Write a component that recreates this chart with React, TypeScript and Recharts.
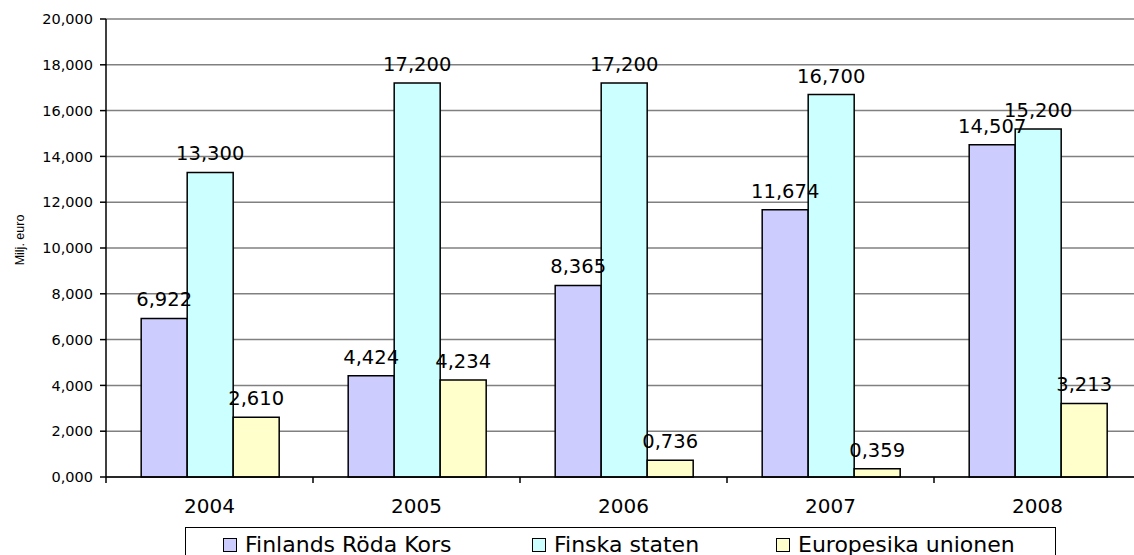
import React from "react";
import {
  BarChart,
  Bar,
  XAxis,
  YAxis,
  CartesianGrid,
  LabelList,
} from "recharts";

// Values in miljoner euro (Finnish decimal comma in the labels)
const years = ["2004", "2005", "2006", "2007", "2008"];
const rodaKors = [6.922, 4.424, 8.365, 11.674, 14.507];
const finskaStaten = [13.3, 17.2, 17.2, 16.7, 15.2];
const europeiskaUnionen = [2.61, 4.234, 0.736, 0.359, 3.213];
const yTicks = [0, 2, 4, 6, 8, 10, 12, 14, 16, 18, 20];

const seriesNames = ["Finlands Röda Kors", "Finska staten", "Europesika unionen"];
const seriesColors = ["#CCCCFF", "#CCFFFF", "#FFFFCC"];

const data = years.map((year, i) => ({
  year,
  frk: rodaKors[i],
  staten: finskaStaten[i],
  eu: europeiskaUnionen[i],
}));

const fmt = (v: number) => Number(v).toFixed(3).replace(".", ",");

const FONT = "'DejaVu Sans', Verdana, sans-serif";

// category label plus a tick mark on the left edge of the band (and right edge for the last one)
const YearTick = (props: any) => {
  const { x, y, payload, index } = props;
  const half = payload?.offset ?? 0;
  const axisY = y - 22;
  return (
    <g>
      <line x1={x - half} x2={x - half} y1={axisY} y2={axisY + 6} stroke="#000" strokeWidth={1.5} />
      {index === years.length - 1 && (
        <line x1={x + half} x2={x + half} y1={axisY} y2={axisY + 6} stroke="#000" strokeWidth={1.5} />
      )}
      <text x={x} y={y} dy="0.71em" textAnchor="middle" fontSize={20} fontFamily={FONT} fill="#000">
        {payload.value}
      </text>
    </g>
  );
};

export default function App() {
  const keys = ["frk", "staten", "eu"];

  return (
    <div
      style={{
        position: "absolute",
        left: 0,
        top: 0,
        width: 1134,
        height: 555,
        overflow: "hidden",
        background: "#fff",
        fontFamily: FONT,
      }}
    >
      <BarChart
        width={1141}
        height={555}
        data={data}
        margin={{ top: 19, right: 0, left: 0, bottom: 48 }}
        barCategoryGap="17%"
        barGap={0}
      >
        <CartesianGrid vertical={false} stroke="#808080" strokeWidth={1.5} />
        <XAxis
          dataKey="year"
          axisLine={{ stroke: "#000", strokeWidth: 1.5 }}
          tickLine={false}
          tickSize={8}
          tickMargin={14}
          height={30}
          interval={0}
          tick={<YearTick />}
        />
        <YAxis
          width={106}
          domain={[0, 20]}
          ticks={yTicks}
          tickFormatter={fmt}
          axisLine={{ stroke: "#000", strokeWidth: 1.5 }}
          tickLine={{ stroke: "#000", strokeWidth: 1.5 }}
          tickSize={6}
          tickMargin={7}
          tick={{ fill: "#000", fontSize: 14.5, fontFamily: FONT }}
          label={{
            content: () => (
              <text
                x={24}
                y={240}
                transform="rotate(-90 24 240)"
                textAnchor="middle"
                fontSize={12.5}
                fontFamily="'Liberation Sans', Arial, sans-serif"
                fill="#000"
              >
                Milj. euro
              </text>
            ),
          }}
        />
        {keys.map((k, i) => (
          <Bar
            key={k}
            dataKey={k}
            name={seriesNames[i]}
            fill={seriesColors[i]}
            stroke="#000"
            strokeWidth={1.5}
            isAnimationActive={false}
          >
            <LabelList
              dataKey={k}
              position="top"
              offset={12}
              formatter={(v: any) => fmt(v)}
              style={{ fill: "#000", fontSize: 19.5, fontFamily: FONT }}
            />
          </Bar>
        ))}
      </BarChart>
      <div
        style={{
          position: "absolute",
          left: 185,
          top: 527,
          width: 871,
          height: 40,
          border: "1.5px solid #000",
          boxSizing: "border-box",
          fontSize: 22,
          lineHeight: "26px",
          color: "#000",
        }}
      >
        {seriesNames.map((name, i) => (
          <div
            key={name}
            style={{
              position: "absolute",
              left: [37, 346, 590][i],
              top: 4,
              display: "flex",
              alignItems: "center",
              whiteSpace: "nowrap",
            }}
          >
            <span
              style={{
                display: "inline-block",
                width: 12,
                height: 12,
                background: seriesColors[i],
                border: "1.5px solid #000",
                marginRight: 8,
              }}
            />
            <span>{name}</span>
          </div>
        ))}
      </div>
    </div>
  );
}
